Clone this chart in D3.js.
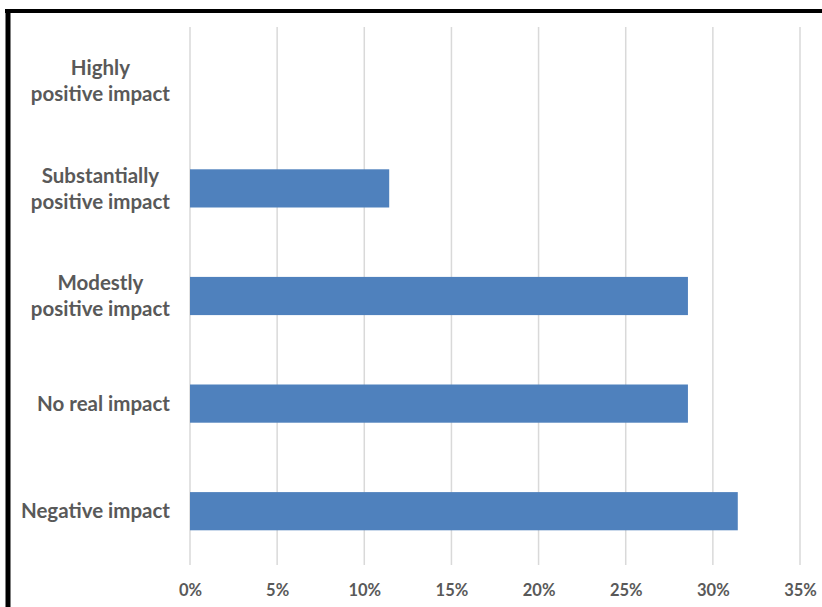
<!DOCTYPE html>
<html>
<head>
<meta charset="utf-8">
<script src="https://cdn.jsdelivr.net/npm/d3@7"></script>
<style>
  html, body { margin: 0; padding: 0; background: #fff; }
  svg { display: block; }
</style>
</head>
<body>
<svg id="chart" width="822" height="607"></svg>
<script>
// Share of responses per impact level (top to bottom)
const categories = [
  "Highly\npositive impact",
  "Substantially\npositive impact",
  "Modestly\npositive impact",
  "No real impact",
  "Negative impact"
];
const values = [0, 0.1143, 0.2857, 0.2857, 0.3143];
const tickValues = [0, 0.05, 0.10, 0.15, 0.20, 0.25, 0.30, 0.35];

const svg = d3.select("#chart");
const W = 822, H = 607;
const plot = { left: 190, right: 800, top: 27, bottom: 565 };

// Frame: thick black line along the top and left edges
svg.append("line").attr("x1", 5).attr("x2", W).attr("y1", 11).attr("y2", 11)
  .attr("stroke", "#000").attr("stroke-width", 4);
svg.append("line").attr("x1", 8).attr("x2", 8).attr("y1", 9).attr("y2", H)
  .attr("stroke", "#000").attr("stroke-width", 5);

const x = d3.scaleLinear().domain([0, 0.35]).range([plot.left, plot.right]);
const y = d3.scaleBand().domain(categories).range([plot.top, plot.bottom])
  .paddingInner(0.645).paddingOuter(0.3225);

// Vertical gridlines
svg.append("g").selectAll("line").data(tickValues).join("line")
  .attr("x1", d => x(d)).attr("x2", d => x(d))
  .attr("y1", plot.top).attr("y2", plot.bottom)
  .attr("stroke", "#d9d9d9").attr("stroke-width", 1.5);

// Bars
svg.append("g").selectAll("rect").data(categories).join("rect")
  .attr("x", x(0))
  .attr("y", d => y(d))
  .attr("width", (d, i) => x(values[i]) - x(0))
  .attr("height", y.bandwidth())
  .attr("fill", "#4f81bd");

// Bottom axis tick labels
const xAxis = d3.axisBottom(x).tickValues(tickValues)
  .tickFormat(d3.format(".0%")).tickSize(0).tickPadding(0);
const gx = svg.append("g").attr("transform", `translate(0, ${plot.bottom + 19})`).call(xAxis);
gx.select(".domain").remove();
gx.selectAll("text")
  .attr("font-family", "Lato, 'Open Sans', sans-serif")
  .attr("font-weight", "bold")
  .attr("font-size", 16.5)
  .attr("fill", "#595959");

// Category labels: lines centred on each other, block right-aligned before the plot
const labelRight = 170;
const lineH = 26;
const gy = svg.append("g");
categories.forEach(cat => {
  const lines = cat.split("\n");
  const t = gy.append("text")
    .attr("font-family", "Lato, 'Open Sans', sans-serif")
    .attr("font-weight", "bold")
    .attr("font-size", 20.5)
    .attr("fill", "#595959")
    .attr("text-anchor", "middle");
  const cy = y(cat) + y.bandwidth() / 2;
  const y0 = cy - (lines.length - 1) * lineH / 2;
  lines.forEach((ln, i) => {
    t.append("tspan").attr("y", y0 + i * lineH).attr("dy", "0.35em").text(ln);
  });
  let maxW = 0;
  t.selectAll("tspan").each(function () { maxW = Math.max(maxW, this.getComputedTextLength()); });
  t.selectAll("tspan").attr("x", labelRight - maxW / 2);
});
</script>
</body>
</html>
